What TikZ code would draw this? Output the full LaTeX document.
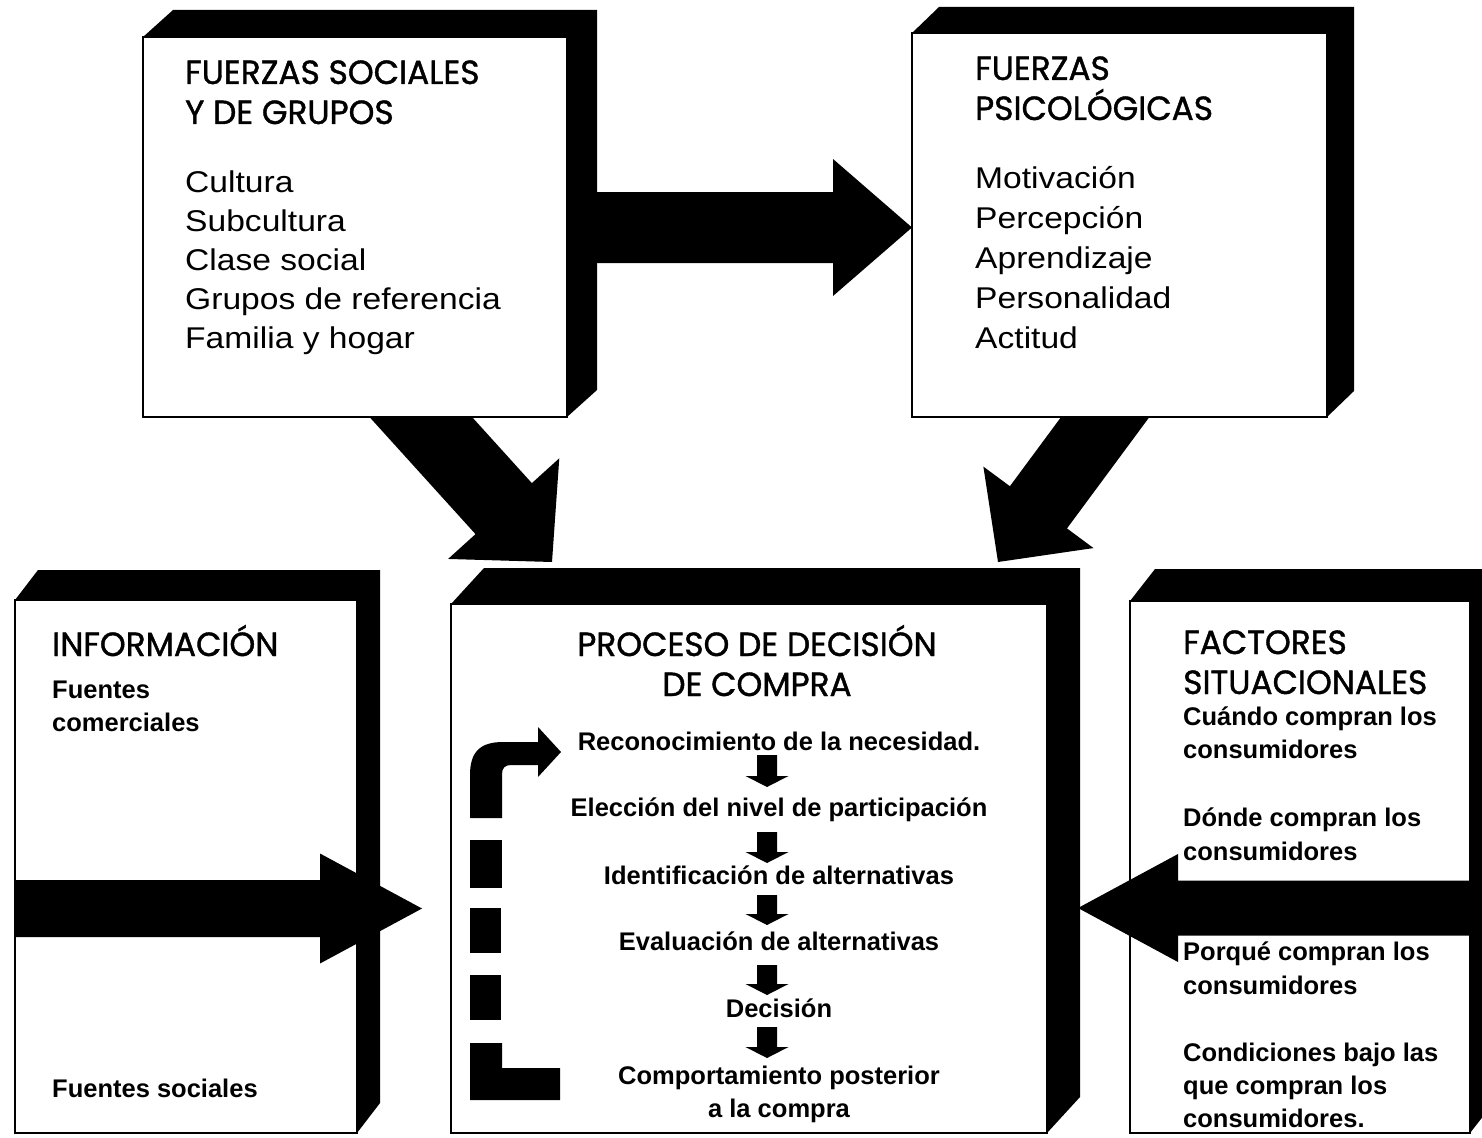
\documentclass[tikz,border=0pt]{standalone}
\usepackage{fontspec}
\setmainfont{Liberation Sans}
\newfontfamily\decofont[FakeStretch=0.98, FakeBold=1.2]{Poppins}
\newfontfamily\itemfont[FakeStretch=1.12]{Liberation Sans}
\usetikzlibrary{calc}

\tikzset{
  face/.style={fill=white, draw=black, line width=1.6pt, inner sep=0pt, outer sep=0pt, anchor=north west},
  depth/.style={fill=black},
  heading/.style={font=\decofont\fontsize{33.5}{38}\selectfont, inner sep=0pt},
  factor/.style={font=\itemfont\fontsize{30}{36}\selectfont, inner sep=0pt, anchor=base west},
  entry/.style={font=\bfseries\fontsize{25.5}{30}\selectfont, inner sep=0pt},
}

% solid box: name, left, top, right, bottom, depth x, depth y
\newcommand\solidbox[7]{%
  \fill[depth] (#2,#3) -- (#2+#6,#3-#7) -- (#4+#6,#3-#7) -- (#4+#6,#5-#7) -- (#4,#5) -- (#4,#3) -- cycle;
  \node[face, minimum width={(#4-#2)*1pt}, minimum height={(#5-#3)*1pt}] (#1) at (#2,#3) {};
}

% block arrow: tail, tip, half shaft width, half head width, head length
\newcommand\blockarrow[5]{%
  \coordinate (hb) at ($(#2)!#5!(#1)$);
  \fill ($(#1)!#3!90:(#2)$) -- ($(hb)!#3!90:(#2)$) -- ($(hb)!#4!90:(#2)$) -- (#2)
     -- ($(hb)!#4!-90:(#2)$) -- ($(hb)!#3!-90:(#2)$) -- ($(#1)!#3!-90:(#2)$) -- cycle;
}

\begin{document}
\begin{tikzpicture}[x=1pt, y=-1pt]
\useasboundingbox (0,0) rectangle (1482,1137);
\clip (0,0) rectangle (1482,1137);

% arrows leaving the upper boxes towards the decision process
\coordinate (sd-tail) at (380,372);  \coordinate (sd-tip) at (552,562);
\coordinate (pd-tail) at (1140,370); \coordinate (pd-tip) at (998,562);
\blockarrow{sd-tail}{sd-tip}{38pt}{75pt}{72pt}
\blockarrow{pd-tail}{pd-tip}{35.5pt}{68.5pt}{68pt}

% the five boxes
\solidbox{social}{143}{37}{567}{417}{30}{27}
\solidbox{psico}{912}{33}{1327}{417}{27}{26}
\solidbox{info}{15}{600}{357}{1133}{23}{30}
\solidbox{proceso}{451}{604}{1047}{1133}{33}{36}
\solidbox{situ}{1130}{601}{1470}{1133}{25}{32}

% social forces to psychological forces
\coordinate (sp-tail) at (585,227.5); \coordinate (sp-tip) at (912,227.5);
\blockarrow{sp-tail}{sp-tip}{35.5pt}{68.5pt}{79pt}

% information and situational factors feeding the process
\coordinate (in-tail) at (15,908.5);  \coordinate (in-tip) at (422,908.5);
\blockarrow{in-tail}{in-tip}{28.5pt}{55pt}{102pt}
\coordinate (si-tail) at (1500,908); \coordinate (si-tip) at (1078,908);
\blockarrow{si-tail}{si-tip}{27.5pt}{54pt}{100pt}

% social and group forces
\node[heading, anchor=base west] (t-social1) at (185,84) {FUERZAS SOCIALES};
\node[heading, anchor=base west] (t-social2) at (185,124) {Y DE GRUPOS};
\node[factor] (f-cul) at (185,192) {Cultura};
\node[factor] (f-sub) at (185,231) {Subcultura};
\node[factor] (f-cla) at (185,270) {Clase social};
\node[factor] (f-gru) at (185,309) {Grupos de referencia};
\node[factor] (f-fam) at (185,348) {Familia y hogar};

% psychological forces
\node[heading, anchor=base west] (t-psico1) at (975,80) {FUERZAS};
\node[heading, anchor=base west] (t-psico2) at (975,120) {PSICOLÓGICAS};
\node[factor] (f-mot) at (975,188) {Motivación};
\node[factor] (f-per) at (975,228) {Percepción};
\node[factor] (f-apr) at (975,268) {Aprendizaje};
\node[factor] (f-pers) at (975,308) {Personalidad};
\node[factor] (f-act) at (975,348) {Actitud};

% information
\node[heading, anchor=base west] (t-info) at (52,656) {INFORMACIÓN};
\node[entry, anchor=base west] (i-com1) at (52,698) {Fuentes};
\node[entry, anchor=base west] (i-com2) at (52,731) {comerciales};
\node[entry, anchor=base west] (i-soc) at (52,1097) {Fuentes sociales};

% situational factors
\node[heading, anchor=base west] (t-situ1) at (1183,654) {FACTORES};
\node[heading, anchor=base west] (t-situ2) at (1183,694) {SITUACIONALES};
\node[entry, anchor=base west] (s-cu1) at (1183,725) {Cuándo compran los};
\node[entry, anchor=base west] (s-cu2) at (1183,758) {consumidores};
\node[entry, anchor=base west] (s-do1) at (1183,826) {Dónde compran los};
\node[entry, anchor=base west] (s-do2) at (1183,860) {consumidores};
\node[entry, anchor=base west] (s-po1) at (1183,960) {Porqué compran los};
\node[entry, anchor=base west] (s-po2) at (1183,994) {consumidores};
\node[entry, anchor=base west] (s-co1) at (1183,1061) {Condiciones bajo las};
\node[entry, anchor=base west] (s-co2) at (1183,1094) {que compran los};
\node[entry, anchor=base west] (s-co3) at (1183,1127) {consumidores.};

% purchase decision process
\node[heading, anchor=base] (t-proc1) at (757,656) {PROCESO DE DECISIÓN};
\node[heading, anchor=base] (t-proc2) at (757,696) {DE COMPRA};
\node[entry, anchor=base] (p1) at (779,750) {Reconocimiento de la necesidad.};
\node[entry, anchor=base] (p2) at (779,816) {Elección del nivel de participación};
\node[entry, anchor=base] (p3) at (779,884) {Identificación de alternativas};
\node[entry, anchor=base] (p4) at (779,950) {Evaluación de alternativas};
\node[entry, anchor=base] (p5) at (779,1017) {Decisión};
\node[entry, anchor=base] (p6) at (779,1084) {Comportamiento posterior};
\node[entry, anchor=base] (p7) at (779,1117) {a la compra};

% step arrows
\foreach \a/\b [count=\i] in {755/787, 832/863, 895/925, 965/995, 1027/1058}{
  \coordinate (st\i-tail) at (767,\a);
  \coordinate (st\i-tip) at (767,\b);
  \blockarrow{st\i-tail}{st\i-tip}{10pt}{21.5pt}{11pt}
}

% feedback from post-purchase behaviour back to need recognition
\fill (470,1043) -- (470,1100) -- (560,1100) -- (560,1068) -- (502,1068) -- (502,1043) -- cycle;
\fill (470,975) rectangle (501,1020);
\fill (470,908) rectangle (501,953);
\fill (470,840) rectangle (502,888);
\fill (470,818) -- (470,775) .. controls (470,752) and (480,742) .. (503,742)
  -- (538,742) -- (538,727) -- (561,752) -- (538,777) -- (538,765) -- (511,765)
  .. controls (505,765) and (502,768) .. (502,774) -- (502,818) -- cycle;
\end{tikzpicture}
\end{document}
